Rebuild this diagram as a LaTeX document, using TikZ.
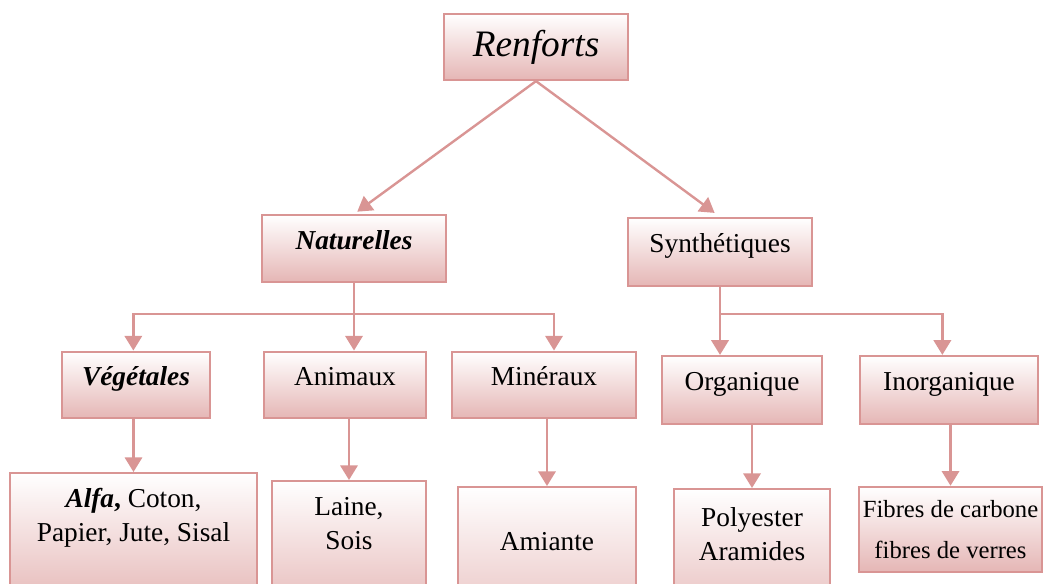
\documentclass[tikz,border=0pt]{standalone}
\usepackage{fontspec}
\setmainfont{Liberation Serif}
\usetikzlibrary{arrows.meta}
\definecolor{rline}{RGB}{217,149,148}
\definecolor{rfill}{RGB}{229,182,181}
\begin{document}
\begin{tikzpicture}[x=0.75pt,y=-0.75pt,
  box/.style={draw=rline,line width=1.7pt,top color=white,bottom color=rfill,minimum width=#1,align=center,font=\fontsize{20.5}{25.5}\selectfont},
  cat/.style={box=#1,minimum height=50pt,text height=14pt,text depth=13pt},
  leaf/.style={box=#1,anchor=north,text depth=40pt},
  link/.style={draw=rline,line width=1.8pt,-{Triangle[width=13pt,length=11pt]}}]
\useasboundingbox (0,0) rectangle (1044,583);
\clip (0,0) rectangle (1044,583);

\node[box=138pt,minimum height=49.5pt,text height=20pt,text depth=6pt,font=\fontsize{28}{34}\selectfont\itshape] (ren) at (536,47) {Renforts};
\node[cat=138pt] (nat) at (354,248.5) {\textbf{\textit{Naturelles}}};
\node[cat=138pt,minimum height=51pt] (syn) at (720,252) {Synthétiques};

\node[cat=111pt] (veg) at (136,385) {\textbf{\textit{Végétales}}};
\node[cat=121.5pt] (ani) at (345,385) {Animaux};
\node[cat=138pt] (min) at (544,385) {Minéraux};
\node[cat=120pt,minimum height=51pt] (org) at (742,390) {Organique};
\node[cat=133.5pt,minimum height=51pt] (ino) at (949,390) {Inorganique};

\node[leaf=185pt,inner ysep=11pt] (alf) at (133.5,472) {\textbf{\textit{Alfa},} Coton,\\Papier, Jute, Sisal};
\node[leaf=115.5pt,inner ysep=12pt] (lai) at (349,480) {Laine,\\Sois};
\node[leaf=133.5pt,inner ysep=34pt] (ami) at (547,486) {Amiante};
\node[leaf=117pt,inner ysep=13.5pt] (pol) at (752,488) {Polyester\\Aramides};
\node[box=137pt,minimum height=64pt,inner xsep=1pt,font=\fontsize{18.5}{30.75}\selectfont] (fib) at (950.5,529.5) {Fibres de carbone\\fibres de verres};

% top level
\draw[link,shorten >=3pt] (ren.south) -- (nat.north);
\draw[link,shorten >=5pt] (ren.south) -- (syn.north);

% branches
\draw[link] (nat.south) -- (nat.south |- ani.north);
\draw[link] (nat.south) ++(0,31) -| ([xshift=-2pt]veg.north);
\draw[link] (nat.south) ++(0,31) -| ([xshift=7.5pt]min.north);
\draw[link] (syn.south) -- (syn.south |- org.north);
\draw[link] (syn.south) ++(0,27) -| ([xshift=-5pt]ino.north);

\foreach \a/\b in {veg/alf,ani/lai,min/ami,org/pol,ino/fib}
  \draw[link] (\b.north |- \a.south) -- (\b.north);
\end{tikzpicture}
\end{document}
